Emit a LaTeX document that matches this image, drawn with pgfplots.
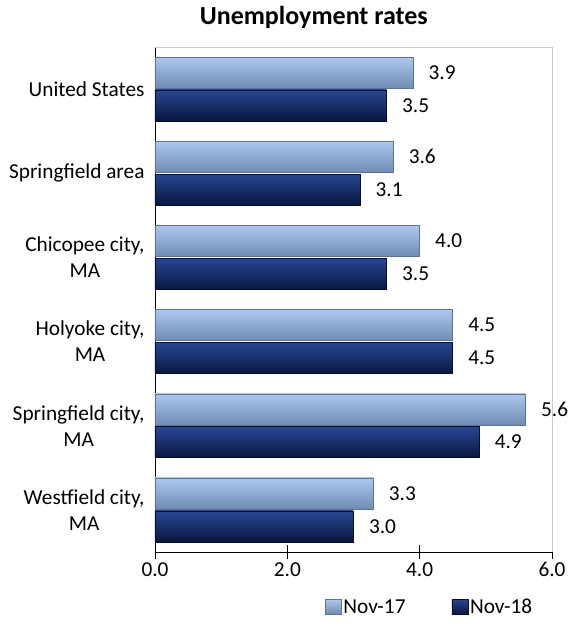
\documentclass[border=0pt]{standalone}
\usepackage{pgfplots}
\pgfplotsset{compat=1.18}
\usepackage{fontspec}
\setmainfont{Carlito}
\pgfkeys{/pgf/number format/assume math mode=true}
\definecolor{ltTop}{RGB}{172,200,238}
\definecolor{ltMid}{RGB}{214,232,253}
\definecolor{ltBot}{RGB}{112,140,180}
\definecolor{ltEdge}{RGB}{95,115,145}
\definecolor{dkTop}{RGB}{40,72,148}
\definecolor{dkMid}{RGB}{22,50,122}
\definecolor{dkBot}{RGB}{8,22,62}
\definecolor{dkEdge}{RGB}{5,15,50}
\newcommand{\lbl}{\fontsize{21.3bp}{26bp}\selectfont}
\pgfplotsset{
  lt bar/.style={xbar, bar width=0.37, bar shift=-0.195, draw=ltEdge, line width=0.5bp, top color=ltTop, middle color=ltMid, bottom color=ltBot},
  dk bar/.style={xbar, bar width=0.37, bar shift=0.195, draw=dkEdge, line width=0.5bp, top color=dkTop, middle color=dkMid, bottom color=dkBot},
}
\begin{document}
\begin{tikzpicture}
\useasboundingbox (-155bp,-78bp) rectangle (418bp,552bp);
\begin{axis}[
  at={(0,0)}, anchor=south west,
  scale only axis, width=397bp, height=505bp,
  xmin=0, xmax=6, ymin=-0.5, ymax=5.5, y dir=reverse,
  xbar, bar width=0.37,
  axis x line*=bottom, axis y line*=left,
  axis line style={black, line width=0.8bp},
  xtick={0,2,4,6},
  xticklabel style={font=\lbl, /pgf/number format/.cd, fixed, fixed zerofill, precision=1},
  tick align=center, major tick length=14bp,
  x tick style={black, line width=0.8bp},
  ytick={0,1,2,3,4,5},
  yticklabels={United States, Springfield area, {Chicopee city,\\MA}, {Holyoke city,\\MA}, {Springfield city,\\MA}, {Westfield city,\\MA}},
  yticklabel style={font=\lbl, align=center},
  y tick style={draw=none},
  nodes near coords,
  nodes near coords style={font=\lbl, black, anchor=west, xshift=12bp, /pgf/number format/.cd, fixed, fixed zerofill, precision=1},
  legend style={draw=none, at={(0.42,-0.109)}, anchor=west, font=\lbl, legend columns=2,
    /tikz/every even column/.append style={column sep=44bp}},
  legend image code/.code={\draw[#1] (0bp,-7bp) rectangle (16bp,8bp);},
  clip=false,
]
\draw[black!20, line width=0.8bp] (rel axis cs:0,1) -- (rel axis cs:1,1) -- (rel axis cs:1,0);
\node[font=\fontsize{26bp}{30bp}\selectfont\bfseries, anchor=center] at (rel axis cs:0.40,1.059) {Unemployment rates};
\addlegendimage{lt bar}\addlegendentry{Nov-17}
\addlegendimage{dk bar}\addlegendentry{Nov-18}
% Nov-17
\addplot[lt bar, forget plot] coordinates {(3.9,0)};
\addplot[lt bar, forget plot] coordinates {(3.6,1)};
\addplot[lt bar, forget plot] coordinates {(4.0,2)};
\addplot[lt bar, forget plot] coordinates {(4.5,3)};
\addplot[lt bar, forget plot] coordinates {(5.6,4)};
\addplot[lt bar, forget plot] coordinates {(3.3,5)};
% Nov-18
\addplot[dk bar, forget plot] coordinates {(3.5,0)};
\addplot[dk bar, forget plot] coordinates {(3.1,1)};
\addplot[dk bar, forget plot] coordinates {(3.5,2)};
\addplot[dk bar, forget plot] coordinates {(4.5,3)};
\addplot[dk bar, forget plot] coordinates {(4.9,4)};
\addplot[dk bar, forget plot] coordinates {(3.0,5)};
\end{axis}
\end{tikzpicture}
\end{document}
